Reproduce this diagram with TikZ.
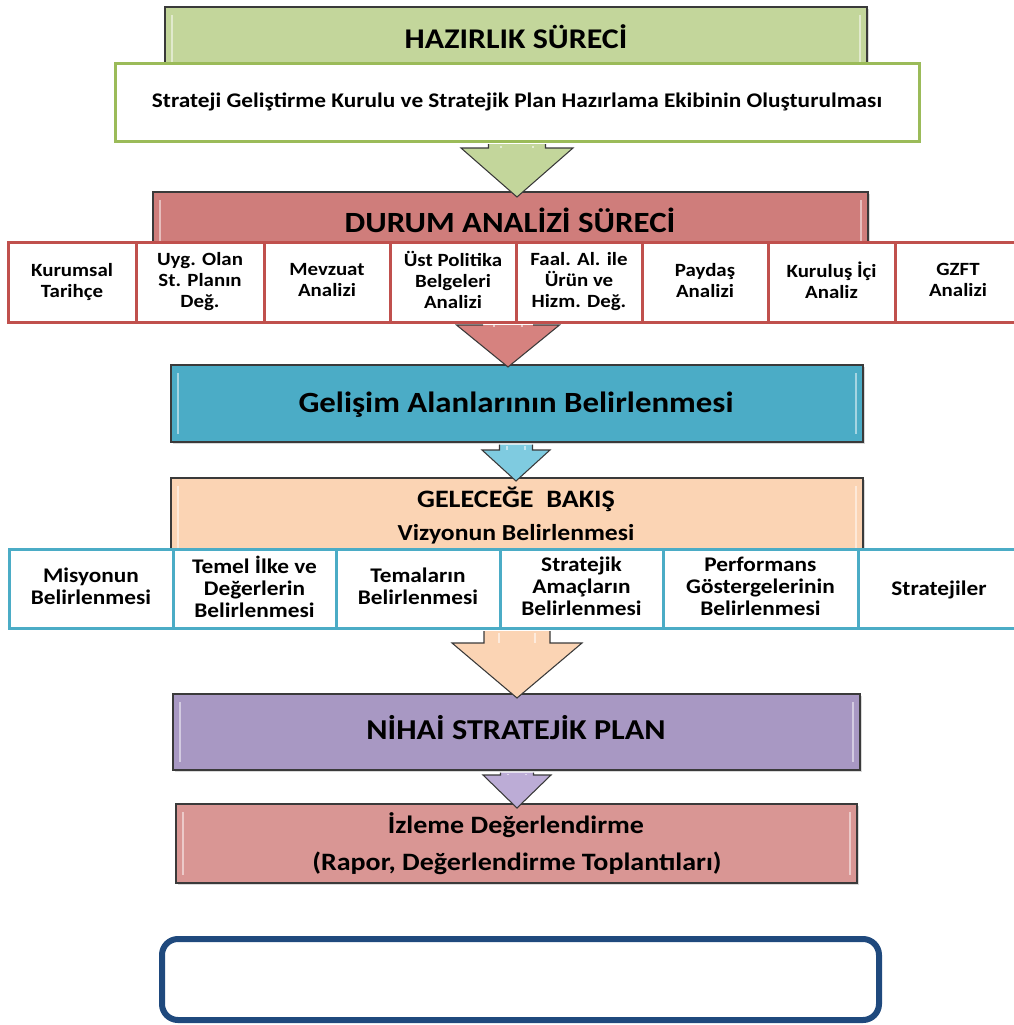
\documentclass[tikz,border=0pt]{standalone}
\usepackage{fontspec}
\setmainfont{Carlito}[FakeStretch=1.12]
\usetikzlibrary{calc,fit,shadows}
\definecolor{cGreen}{HTML}{C3D69B}
\definecolor{cGreenB}{HTML}{9BBB59}
\definecolor{cRed}{HTML}{CF7D7B}
\definecolor{cRedB}{HTML}{C0504D}
\definecolor{cTeal}{HTML}{4BACC6}
\definecolor{cPeach}{HTML}{FBD4B4}
\definecolor{cPurple}{HTML}{A898C3}
\definecolor{cPink}{HTML}{D99694}
\definecolor{cNavy}{HTML}{1F497D}
\definecolor{aRed}{HTML}{D6827F}
\definecolor{aBlue}{HTML}{7FCBE0}
\definecolor{aPurple}{HTML}{BCACD6}
\definecolor{cEdge}{HTML}{3A3A3A}

\newcommand{\myfont}[2]{\fontsize{#1}{#2}\selectfont\bfseries}
% #1 style, #2 source node, #3 target node, #4 centre x, #5 shaft half width,
% #6 head half width, #7 head top y, #8 tip offset below target top
\newcommand{\blockarrow}[8]{%
  \draw[#1] ($(#4-#5,0 |- #2.south)+(0,1.5)$) -- (#4-#5,#7) -- (#4-#6,#7)
    -- ($(#4,0 |- #3.north)+(0,#8)$) -- (#4+#6,#7) -- (#4+#5,#7)
    -- ($(#4+#5,0 |- #2.south)+(0,1.5)$);
  \draw[white, opacity=0.55, line width=1.5pt]
    ($(#4-#5*0.55,0 |- #2.south)+(0,3)$) -- (#4-#5*0.55,#7);
  \draw[white, opacity=0.55, line width=1.5pt]
    ($(#4+#5*0.55,0 |- #2.south)+(0,3)$) -- (#4+#5*0.55,#7);
}

\tikzset{
  bevel/.style={path picture={
     \draw[white, opacity=0.5, line width=1.5pt]
       ([xshift=5pt,yshift=-6pt]path picture bounding box.north west) --
       ([xshift=5pt,yshift=6pt]path picture bounding box.south west);
     \draw[white, opacity=0.5, line width=1.5pt]
       ([xshift=-5pt,yshift=-6pt]path picture bounding box.north east) --
       ([xshift=-5pt,yshift=6pt]path picture bounding box.south east);}},
  tbox/.style={draw=cEdge, line width=1.5pt, inner sep=0pt,
     drop shadow={opacity=0.3, shadow xshift=1.5pt, shadow yshift=-1.5pt}, bevel},
  wbox/.style={draw=cGreenB, line width=2.25pt, fill=white, inner sep=0pt},
  r1box/.style={draw=cRedB, line width=2.25pt, fill=white, inner sep=0pt,
     align=center, font=\myfont{14}{15.75}, minimum height=80*0.75pt,
     execute at begin node={\rule{0pt}{12pt}},
     execute at end node={\rule[-3pt]{0pt}{0pt}}},
  r2box/.style={draw=cTeal, line width=2.25pt, fill=white, inner sep=0pt,
     align=center, font=\myfont{15.6}{16.5}, minimum height=79*0.75pt,
     execute at begin node={\rule{0pt}{13pt}},
     execute at end node={\rule[-3pt]{0pt}{0pt}}},
  ttl/.style={anchor=base, inner sep=0pt},
  barrow/.style={draw=cEdge, line width=0.8pt, line join=miter},
}

\begin{document}
\begin{tikzpicture}[x=0.75pt,y=-0.75pt]
\useasboundingbox (0,0) rectangle (1014,1025);

% Hazirlik
\node[tbox, fill=cGreen, fit={(165,7)(867,100)}] (hz) {};
\node[ttl, font=\myfont{21.4}{24}] (hzt) at (516,48) {HAZIRLIK SÜRECİ};
\node[wbox, fit={(115,63)(919,141)}] (hzw) {};
\node[ttl, font=\myfont{15.6}{18}] (hzwt) at (517,107) {Strateji Geliştirme Kurulu ve Stratejik Plan Hazırlama Ekibinin Oluşturulması};

% Durum analizi
\node[tbox, fill=cRed, fit={(153,192)(868,262)}] (dur) {};
\node[ttl, font=\myfont{22}{26}] (durt) at (510,232) {DURUM ANALİZİ SÜRECİ};
\node[r1box, minimum width=128*0.75pt] (r1) at (72,282) {Kurumsal\\Tarihçe};
\node[r1box, minimum width=128*0.75pt] (r2) at (200,282) {Uyg. Olan\\St. Planın\\Değ.};
\node[r1box, minimum width=126*0.75pt] (r3) at (327,282) {Mevzuat\\Analizi};
\node[r1box, minimum width=126*0.75pt] (r4) at (453,282) {Üst Politika\\Belgeleri\\Analizi};
\node[r1box, minimum width=126*0.75pt] (r5) at (579,282) {Faal. Al. ile\\Ürün ve\\Hizm. Değ.};
\node[r1box, minimum width=126*0.75pt] (r6) at (705,282) {Paydaş\\Analizi};
\node[r1box, minimum width=127*0.75pt] (r7) at (831.5,282) {Kuruluş İçi\\Analiz};
\node[r1box, minimum width=126*0.75pt] (r8) at (958,282) {GZFT\\Analizi};

% Gelisim
\node[tbox, fill=cTeal, fit={(171,365)(863,442)}] (gel) {};
\node[ttl, font=\myfont{22}{26}] (gelt) at (516,412) {Gelişim Alanlarının Belirlenmesi};

% Gelecege bakis
\node[tbox, fill=cPeach, fit={(171,478)(863,570)}] (gb) {};
\node[ttl, font=\myfont{18.8}{22}] (gbt) at (516,507) {GELECEĞE\ \ BAKIŞ};
\node[ttl, font=\myfont{17.2}{20}] (gbv) at (516,540) {Vizyonun Belirlenmesi};
\node[r2box, minimum width=164*0.75pt] (s1) at (91,588.5) {Misyonun\\Belirlenmesi};
\node[r2box, minimum width=163*0.75pt] (s2) at (254.5,588.5) {Temel İlke ve\\Değerlerin\\Belirlenmesi};
\node[r2box, minimum width=164*0.75pt] (s3) at (418,588.5) {Temaların\\Belirlenmesi};
\node[r2box, minimum width=163*0.75pt] (s4) at (581.5,588.5) {Stratejik\\Amaçların\\Belirlenmesi};
\node[r2box, minimum width=195*0.75pt] (s5) at (760.5,588.5) {Performans\\Göstergelerinin\\Belirlenmesi};
\node[r2box, minimum width=162*0.75pt] (s6) at (939,588.5) {Stratejiler};

% Nihai
\node[tbox, fill=cPurple, fit={(173,694)(860,770)}] (nih) {};
\node[ttl, font=\myfont{21.6}{26}] (niht) at (516,739) {NİHAİ STRATEJİK PLAN};

% Izleme
\node[tbox, fill=cPink, fit={(176,804)(857,883)}] (izl) {};
\node[ttl, font=\myfont{18.75}{22}] (izlt) at (516,833) {İzleme Değerlendirme};
\node[ttl, font=\myfont{18.75}{22}] (izlr) at (517,870) {(Rapor, Değerlendirme Toplantıları)};

% empty rounded box
\node[draw=cNavy, line width=4.5pt, rounded corners=12pt, inner sep=0pt,
      fit={(162,939)(879,1020)}] (bx) {};

% arrows
\blockarrow{barrow, fill=cGreen}{hzw}{dur}{517}{28.5}{56}{148}{6}
\blockarrow{barrow, fill=aRed}{r4}{gel}{508}{25}{51.5}{325}{3}
\blockarrow{barrow, fill=aBlue}{gel}{gb}{516}{16.5}{34}{450}{4}
\blockarrow{barrow, fill=cPeach}{s4}{nih}{517}{33}{65}{643}{5}
\blockarrow{barrow, fill=aPurple}{nih}{izl}{517}{16.5}{34}{775}{5}
\end{tikzpicture}
\end{document}
